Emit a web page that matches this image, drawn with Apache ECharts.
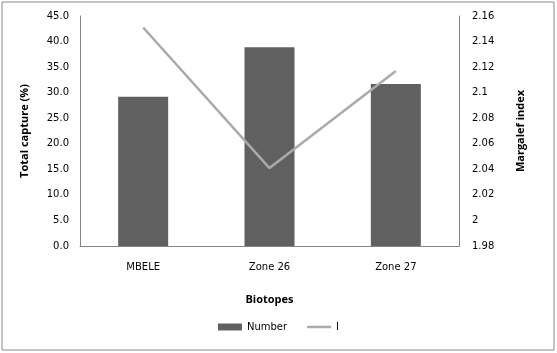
<!DOCTYPE html>
<html>
<head>
<meta charset="utf-8">
<script src="https://cdn.jsdelivr.net/npm/echarts@6/dist/echarts.min.js"></script>
<style>
  html, body { margin: 0; padding: 0; background: #fff; }
  #chart { width: 557px; height: 353px; }
</style>
</head>
<body>
<div id="chart"></div>
<script>
// values
var biotopes = ['MBELE', 'Zone 26', 'Zone 27'];
var number = [29.2, 38.9, 31.7];
var margalef = [2.151, 2.041, 2.117];

var chart = echarts.init(document.getElementById('chart'));

var axisLine = { show: true, lineStyle: { color: '#868686', width: 1 } };
var tickFont = { fontFamily: 'DejaVu Sans', fontSize: 10, color: '#000' };
var titleFont = { fontFamily: 'Open Sans', fontSize: 11, fontWeight: 'bold', color: '#000' };

chart.setOption({
    animation: false,
    graphic: [{
        type: 'rect',
        shape: { x: 2, y: 2, width: 552, height: 348 },
        style: { fill: 'none', stroke: '#888', lineWidth: 1 }
    }],
    grid: { left: 80, right: 98, top: 16, bottom: 107 },
    legend: {
        bottom: 16,
        itemWidth: 24,
        itemHeight: 7,
        itemGap: 20,
        textStyle: { fontFamily: 'DejaVu Sans', fontSize: 10, color: '#000' },
        data: [
            { name: 'Number', icon: 'rect' },
            { name: 'I', icon: 'path://M0,0h24v2.5h-24z' }
        ]
    },
    xAxis: {
        type: 'category',
        data: biotopes,
        name: 'Biotopes',
        nameLocation: 'middle',
        nameGap: 48,
        nameTextStyle: titleFont,
        axisLine: axisLine,
        axisTick: { show: false },
        axisLabel: Object.assign({ margin: 16 }, tickFont)
    },
    yAxis: [{
        type: 'value',
        min: 0, max: 45, interval: 5,
        name: 'Total capture (%)',
        nameLocation: 'middle',
        nameGap: 50,
        nameTextStyle: titleFont,
        axisLine: axisLine,
        axisTick: { show: false },
        splitLine: { show: false },
        axisLabel: Object.assign({ margin: 11, formatter: function (v) { return v.toFixed(1); } }, tickFont)
    }, {
        type: 'value',
        min: 1.98, max: 2.16, interval: 0.02,
        name: 'Margalef index',
        nameLocation: 'middle',
        nameGap: 56,
        nameTextStyle: titleFont,
        axisLine: axisLine,
        axisTick: { show: false },
        splitLine: { show: false },
        axisLabel: Object.assign({ margin: 13, formatter: function (v) { return String(+v.toFixed(2)); } }, tickFont)
    }],
    series: [{
        name: 'Number',
        type: 'bar',
        data: number,
        barWidth: 50,
        itemStyle: { color: '#606060' }
    }, {
        name: 'I',
        type: 'line',
        yAxisIndex: 1,
        data: margalef,
        symbol: 'none',
        lineStyle: { color: '#AAAAAA', width: 2.5 },
        itemStyle: { color: '#AAAAAA' }
    }]
});
</script>
</body>
</html>
